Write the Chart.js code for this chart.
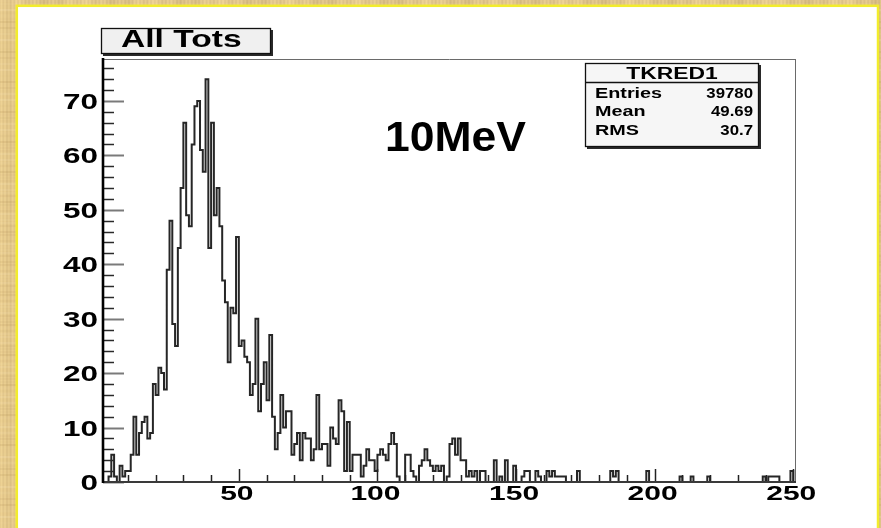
<!DOCTYPE html>
<html>
<head>
<meta charset="utf-8">
<title>All Tots</title>
<script src="https://cdn.jsdelivr.net/npm/chart.js@4.4.1/dist/chart.umd.min.js"></script>
<style>
  html, body { margin: 0; padding: 0; background: #dcc08a; }
  #wrap { width: 881px; height: 528px; position: relative; }
  canvas { display: block; }
</style>
</head>
<body>
<div id="wrap"><canvas id="c" width="881" height="528"></canvas></div>
<script>
// Histogram TKRED1 ("All Tots"): 250 bins of width 1 on [1, 251)
const histName = 'TKRED1';
const histTitle = 'All Tots';
const energyLabel = '10MeV';
const binFirstEdge = 1;
const binWidth = 1;

const binCounts = [
  0, 0, 1, 5, 1, 0, 3, 1, 2, 2,          // 1-10
  5, 12, 5, 9, 11, 12, 8, 9, 18, 16,     // 11-20
  21, 20, 17, 39, 48, 29, 25, 43, 54, 66,// 21-30
  49, 47, 62, 69, 70, 61, 57, 74, 43, 66,// 31-40
  49, 54, 47, 37, 33, 22, 32, 31, 45, 25,// 41-50
  26, 23, 22, 16, 18, 30, 13, 18, 22, 15,// 51-60
  27, 12, 6, 9, 16, 10, 13, 13, 5, 7,    // 61-70
  9, 4, 9, 8, 8, 4, 6, 16, 6, 7,         // 71-80
  7, 3, 10, 8, 7, 15, 13, 2, 11, 2,      // 81-90
  5, 5, 5, 1, 3, 6, 4, 4, 2, 5,          // 91-100
  6, 5, 4, 7, 9, 7, 1, 0, 0, 5,          // 101-110
  5, 2, 1, 0, 3, 4, 6, 4, 3, 2,          // 111-120
  3, 2, 3, 0, 1, 7, 8, 5, 8, 4,          // 121-130
  4, 1, 2, 1, 2, 0, 2, 2, 0, 0,          // 131-140
  0, 4, 0, 1, 0, 4, 0, 0, 3, 0,          // 141-150
  0, 1, 2, 2, 0, 0, 2, 1, 0, 0,          // 151-160
  2, 1, 2, 1, 1, 1, 1, 0, 0, 0,          // 161-170
  0, 2, 0, 0, 0, 0, 0, 0, 0, 0,          // 171-180
  0, 0, 0, 2, 1, 2, 0, 0, 0, 0,          // 181-190
  0, 0, 0, 0, 0, 0, 2, 0, 0, 0,          // 191-200
  0, 0, 0, 0, 0, 0, 0, 0, 1, 0,          // 201-210
  0, 0, 1, 0, 0, 0, 0, 0, 1, 0,          // 211-220
  0, 0, 0, 0, 0, 0, 0, 0, 0, 0,          // 221-230
  0, 0, 0, 0, 0, 0, 0, 0, 1, 0,          // 231-240
  1, 1, 1, 1, 0, 0, 0, 0, 2, 0           // 241-250
];

const xTickLabels = ['50', '100', '150', '200', '250'];
const yTickLabels = ['0', '10', '20', '30', '40', '50', '60', '70'];
const xMinorStep = 10;
const yMinorStep = 2;

const statLabels = ['Entries', 'Mean', 'RMS'];
const statValues = ['39780', '49.69', '30.7'];

// bin edges and the outline of the histogram (left edge of each bin carries its count)
const nBins = binCounts.length;
const xLow = binFirstEdge;
const xHigh = binFirstEdge + nBins * binWidth;
const outline = [{ x: xLow, y: 0 }];
binCounts.forEach((c, i) => outline.push({ x: binFirstEdge + i * binWidth, y: c }));
outline.push({ x: xHigh, y: binCounts[nBins - 1] });
outline.push({ x: xHigh, y: 0 });
const yTop = Math.max(...binCounts) * 1.05;

const FONT = '"Liberation Sans", Arial, Helvetica, sans-serif';
const SX = 1.43; // ROOT text comes out wide

function wideText(ctx, text, x, y, align, size, sx) {
  ctx.save();
  ctx.font = 'bold ' + size + 'px ' + FONT;
  ctx.textAlign = align;
  ctx.textBaseline = 'alphabetic';
  ctx.fillStyle = '#000';
  ctx.translate(x, y);
  ctx.scale(sx, 1);
  ctx.fillText(text, 0, 0);
  ctx.restore();
}

// parchment backdrop, white pad with a yellow edge
const backdrop = {
  id: 'backdrop',
  beforeDraw(chart) {
    const ctx = chart.ctx;
    const W = chart.width, H = chart.height;
    ctx.save();
    for (let x = 0; x < W; x++) {
      const n = Math.sin(x * 1.7) * 0.45 + Math.sin(x * 0.37 + 1.3) * 0.35 + Math.sin(x * 0.091 + 0.4) * 0.4;
      const s = n * 14;
      ctx.fillStyle = 'rgb(' + Math.round(224 + s) + ',' + Math.round(196 + s) + ',' + Math.round(136 + s * 0.8) + ')';
      ctx.fillRect(x, 0, 1, H);
    }
    for (let y = 0; y < H; y += 3) {
      const n = Math.sin(y * 0.83 + 0.5) * 0.5 + Math.sin(y * 0.21) * 0.5;
      ctx.fillStyle = n > 0 ? 'rgba(255,240,200,' + (n * 0.18).toFixed(3) + ')' : 'rgba(150,110,50,' + (-n * 0.12).toFixed(3) + ')';
      ctx.fillRect(0, y, W, 2);
    }
    ctx.fillStyle = '#ffffff';
    ctx.fillRect(18, 7, 859, H - 7);
    ctx.strokeStyle = '#f2ec2c';
    ctx.lineWidth = 2.5;
    ctx.strokeRect(16.8, 5.8, 861.2, H + 10);
    ctx.restore();
  }
};

// frame, axes, ticks and all annotations
const rootPad = {
  id: 'rootPad',
  afterDatasetsDraw(chart) {
    const ctx = chart.ctx;
    const xs = chart.scales.x, ys = chart.scales.y;
    const L = chart.chartArea.left, R = chart.chartArea.right;
    const T = chart.chartArea.top, B = chart.chartArea.bottom;
    ctx.save();
    // frame top / right
    ctx.strokeStyle = '#6a6a6a';
    ctx.lineWidth = 1;
    ctx.beginPath();
    ctx.moveTo(L, T + 0.5); ctx.lineTo(R, T + 0.5);
    ctx.moveTo(R - 0.5, T); ctx.lineTo(R - 0.5, B);
    ctx.stroke();

    // y axis ticks (inside the frame)
    for (let v = 0; v <= ys.max + 1e-6; v += yMinorStep) {
      const py = Math.round(ys.getPixelForValue(v)) + 0.5;
      const major = v % 10 === 0;
      ctx.strokeStyle = major ? '#7a7a7a' : '#2a2a2a';
      ctx.lineWidth = major ? 2 : 1.5;
      ctx.beginPath();
      ctx.moveTo(L, py);
      ctx.lineTo(L + (major ? 21 : 11), py);
      ctx.stroke();
    }
    // x axis ticks
    for (let v = 10; v <= xs.max; v += xMinorStep) {
      const px = Math.round(xs.getPixelForValue(v)) + 0.5;
      const major = v % 50 === 0;
      ctx.strokeStyle = '#222';
      ctx.lineWidth = 1.5;
      ctx.beginPath();
      ctx.moveTo(px, B);
      ctx.lineTo(px, B - (major ? 13 : 7));
      ctx.stroke();
    }
    // axis lines
    ctx.strokeStyle = '#3a3a3a';
    ctx.lineWidth = 2;
    ctx.beginPath();
    ctx.moveTo(L, B); ctx.lineTo(R, B);
    ctx.stroke();
    ctx.strokeStyle = '#000';
    ctx.lineWidth = 2.6;
    ctx.beginPath();
    ctx.moveTo(L, T - 1); ctx.lineTo(L, B + 1);
    ctx.stroke();

    // tick labels
    yTickLabels.forEach(t => {
      wideText(ctx, t, L - 5, ys.getPixelForValue(Number(t)) + 8, 'right', 22, SX);
    });
    xTickLabels.forEach(t => {
      wideText(ctx, t, xs.getPixelForValue(Number(t)) - 2, B + 18, 'center', 21, SX);
    });
    ctx.restore();
  },
  afterDraw(chart) {
    const ctx = chart.ctx;
    ctx.save();
    // title box
    ctx.fillStyle = '#2a2a2a';
    ctx.fillRect(103, 30, 170, 26);
    ctx.fillStyle = '#f0f0f0';
    ctx.fillRect(101, 28, 170, 26);
    ctx.strokeStyle = '#111';
    ctx.lineWidth = 1.3;
    ctx.strokeRect(101.5, 28.5, 169, 25);
    wideText(ctx, histTitle, 121, 47, 'left', 23, 1.46);

    // statistics box
    const bx = 585, by = 63, bw = 174, bh = 84;
    ctx.fillStyle = '#2a2a2a';
    ctx.fillRect(bx + 2, by + 2, bw, bh);
    ctx.fillStyle = '#f6f6f6';
    ctx.fillRect(bx, by, bw, bh);
    ctx.strokeStyle = '#111';
    ctx.lineWidth = 1.3;
    ctx.strokeRect(bx + 0.5, by + 0.5, bw - 1, bh - 1);
    ctx.beginPath();
    ctx.moveTo(bx, by + 19.5); ctx.lineTo(bx + bw, by + 19.5);
    ctx.stroke();
    wideText(ctx, histName, bx + bw / 2, by + 16, 'center', 16, SX);
    statLabels.forEach((lab, i) => {
      const yb = by + 34.5 + i * 18.5;
      wideText(ctx, lab, bx + 10, yb, 'left', 15, 1.32);
      wideText(ctx, statValues[i], bx + bw - 6, yb, 'right', 15, 1.12);
    });

    // beam energy annotation
    ctx.font = 'bold 42px ' + FONT;
    ctx.fillStyle = '#000';
    ctx.textAlign = 'left';
    ctx.textBaseline = 'alphabetic';
    ctx.save();
    ctx.translate(385, 151);
    ctx.scale(1.06, 1);
    ctx.fillText(energyLabel, 0, 0);
    ctx.restore();
    ctx.restore();
  }
};

new Chart(document.getElementById('c'), {
  type: 'line',
  data: {
    datasets: [{
      label: histTitle,
      data: outline,
      stepped: 'before',
      borderColor: '#262626',
      borderWidth: 2,
      borderJoinStyle: 'miter',
      pointRadius: 0,
      fill: false,
      tension: 0,
      clip: 3
    }]
  },
  options: {
    responsive: false,
    animation: false,
    devicePixelRatio: 1,
    parsing: false,
    layout: { padding: { left: 103, right: 85, top: 59, bottom: 46 } },
    plugins: { legend: { display: false }, tooltip: { enabled: false }, title: { display: false } },
    scales: {
      x: { type: 'linear', min: xLow, max: xHigh, display: false },
      y: { type: 'linear', min: 0, max: yTop, display: false }
    }
  },
  plugins: [backdrop, rootPad]
});
</script>
</body>
</html>
